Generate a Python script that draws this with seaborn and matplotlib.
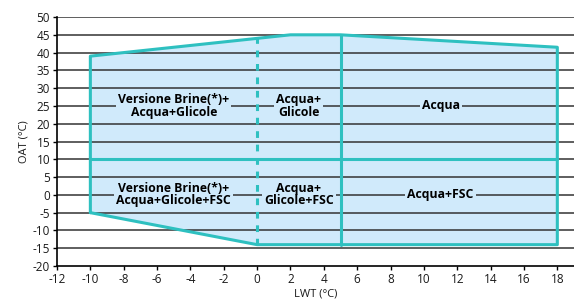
import matplotlib
matplotlib.use("Agg")
import pandas as pd
import seaborn as sns
import matplotlib.pyplot as plt

# operating envelope boundary (LWT, OAT)
boundary_lwt = [-10, -10, 2, 5, 18, 18, 0, -10]
boundary_oat = [-5, 39, 45, 45, 41.5, -14, -14, -5]

# internal separators
split_oat = 10            # horizontal line between upper/lower zones
dashed_lwt = 0            # dashed vertical separator
solid_lwt = 5             # solid vertical separator

# zone labels
label_text = ["Versione Brine(*)+\nAcqua+Glicole", "Acqua+\nGlicole", "Acqua",
              "Versione Brine(*)+\nAcqua+Glicole+FSC", "Acqua+\nGlicole+FSC", "Acqua+FSC"]
label_lwt = [-5, 2.5, 11, -5, 2.5, 11]
label_oat = [25, 25, 25, 0, 0, 0]

x_ticks = list(range(-12, 19, 2))
y_ticks = list(range(-20, 51, 5))

sns.set_style("white")
plt.rcParams['font.family'] = ['Open Sans', 'DejaVu Sans']
plt.rcParams['axes.unicode_minus'] = False

fig = plt.figure(figsize=(5.74, 3.04), dpi=100)
ax = fig.add_axes([0.0993, 0.125, 0.9007, 0.819])

fill_col = "#d0eafb"
edge_col = "#2ec0c0"

ax.fill(boundary_lwt, boundary_oat, color=fill_col, zorder=1, lw=0)

# horizontal grid lines on top of fill
for y in y_ticks[1:]:
    ax.axhline(y, color="#333333", lw=1.1, zorder=2)

df = pd.DataFrame({"LWT": boundary_lwt, "OAT": boundary_oat})
sns.lineplot(data=df, x="LWT", y="OAT", sort=False, estimator=None,
             color=edge_col, lw=2.2, ax=ax, zorder=4)

ax.plot([-10, 18], [split_oat, split_oat], color=edge_col, lw=2.2, zorder=4)
ax.plot([dashed_lwt, dashed_lwt], [-14, 44], color=edge_col, lw=2.2, ls=(0, (2.2, 2.2)), zorder=4)
ax.plot([solid_lwt, solid_lwt], [-14, 45], color=edge_col, lw=2.2, zorder=4)

for t, x, y in zip(label_text, label_lwt, label_oat):
    ax.text(x, y, t, ha="center", va="center", fontsize=8.8, fontweight="bold",
            color="black", linespacing=0.92, zorder=5,
            bbox=dict(facecolor=fill_col, edgecolor="none", pad=1.5))

ax.set_xlim(-12, 19)
ax.set_ylim(-20, 50)
ax.set_xticks(x_ticks)
ax.set_yticks(y_ticks)
ax.tick_params(axis="both", labelsize=8.5, length=3, width=1, color="black",
               labelcolor="#1a1a1a", direction="out", pad=2)
ax.tick_params(left=True, bottom=True)
for s in ["top", "right"]:
    ax.spines[s].set_visible(False)
for s in ["left", "bottom"]:
    ax.spines[s].set_color("black")
    ax.spines[s].set_linewidth(1.2)
ax.set_xlabel("LWT (°C)", fontsize=8, labelpad=2, color="#1a1a1a")
ax.set_ylabel("OAT (°C)", fontsize=8, labelpad=2, color="#1a1a1a")

fig.savefig("out.png", dpi=100)
